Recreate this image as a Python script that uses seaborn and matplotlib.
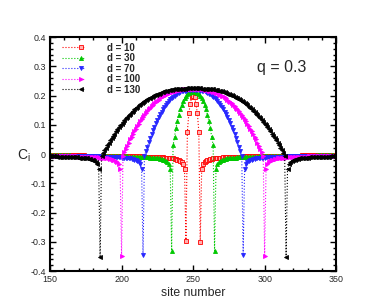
import numpy as np
import pandas as pd
import matplotlib
matplotlib.use("Agg")
import matplotlib.pyplot as plt
import seaborn as sns
from matplotlib.ticker import MultipleLocator, AutoMinorLocator, FuncFormatter
from matplotlib.legend_handler import HandlerLine2DCompound
from matplotlib.lines import Line2D

# distances between the two impurities (centred on site 250)
distances = [10, 30, 70, 100, 130]
labels = ["d = 10", "d = 30", "d = 70", "d = 100", "d = 130"]

# C_i between the two impurity sites (left to right)
inner_10 = [0.076, 0.139, 0.171, 0.196, 0.200, 0.196, 0.171, 0.139, 0.076]
inner_30 = [0.030, 0.059, 0.088, 0.113, 0.135, 0.154, 0.169, 0.182, 0.192, 0.200,
            0.206, 0.210, 0.212, 0.213, 0.213, 0.213, 0.212, 0.210, 0.206, 0.200,
            0.192, 0.182, 0.169, 0.154, 0.135, 0.113, 0.088, 0.059, 0.030]
inner_70 = [-0.005, 0.009, 0.025, 0.040, 0.054, 0.069, 0.081, 0.094, 0.106, 0.117,
            0.127, 0.136, 0.145, 0.154, 0.162, 0.169, 0.175, 0.182, 0.187, 0.192,
            0.196, 0.200, 0.204, 0.207, 0.209, 0.212, 0.214, 0.215, 0.217, 0.217,
            0.218, 0.219, 0.219, 0.219, 0.219, 0.219, 0.219, 0.219, 0.218, 0.217,
            0.217, 0.215, 0.214, 0.212, 0.209, 0.207, 0.204, 0.200, 0.196, 0.192,
            0.187, 0.182, 0.175, 0.169, 0.162, 0.154, 0.145, 0.136, 0.127, 0.117,
            0.106, 0.094, 0.081, 0.069, 0.054, 0.040, 0.025, 0.009, -0.005]
inner_100 = [-0.005, 0.006, 0.018, 0.029, 0.039, 0.050, 0.060, 0.069, 0.079, 0.087,
             0.096, 0.104, 0.112, 0.120, 0.127, 0.134, 0.140, 0.147, 0.153, 0.158,
             0.164, 0.169, 0.174, 0.178, 0.182, 0.186, 0.190, 0.194, 0.197, 0.200,
             0.203, 0.205, 0.208, 0.210, 0.211, 0.213, 0.215, 0.216, 0.217, 0.218,
             0.219, 0.220, 0.221, 0.221, 0.221, 0.222, 0.222, 0.222, 0.222, 0.222,
             0.222, 0.222, 0.222, 0.222, 0.221, 0.221, 0.221, 0.220, 0.219, 0.218,
             0.217, 0.216, 0.215, 0.213, 0.211, 0.210, 0.208, 0.205, 0.203, 0.200,
             0.197, 0.194, 0.190, 0.186, 0.182, 0.178, 0.174, 0.169, 0.164, 0.158,
             0.153, 0.147, 0.140, 0.134, 0.127, 0.120, 0.112, 0.104, 0.096, 0.087,
             0.079, 0.069, 0.060, 0.050, 0.039, 0.029, 0.018, 0.006, -0.005]
inner_130 = [-0.005, 0.005, 0.014, 0.022, 0.031, 0.039, 0.047, 0.055, 0.063, 0.070,
             0.078, 0.084, 0.091, 0.098, 0.104, 0.110, 0.116, 0.122, 0.128, 0.133,
             0.138, 0.143, 0.148, 0.153, 0.157, 0.162, 0.166, 0.170, 0.174, 0.177,
             0.181, 0.184, 0.187, 0.190, 0.193, 0.196, 0.198, 0.201, 0.203, 0.205,
             0.207, 0.209, 0.211, 0.212, 0.214, 0.215, 0.216, 0.218, 0.219, 0.220,
             0.221, 0.221, 0.222, 0.223, 0.223, 0.224, 0.224, 0.224, 0.224, 0.225,
             0.225, 0.225, 0.225, 0.225, 0.225, 0.225, 0.225, 0.225, 0.225, 0.225,
             0.224, 0.224, 0.224, 0.224, 0.223, 0.223, 0.222, 0.221, 0.221, 0.220,
             0.219, 0.218, 0.216, 0.215, 0.214, 0.212, 0.211, 0.209, 0.207, 0.205,
             0.203, 0.201, 0.198, 0.196, 0.193, 0.190, 0.187, 0.184, 0.181, 0.177,
             0.174, 0.170, 0.166, 0.162, 0.157, 0.153, 0.148, 0.143, 0.138, 0.133,
             0.128, 0.122, 0.116, 0.110, 0.104, 0.098, 0.091, 0.084, 0.078, 0.070,
             0.063, 0.055, 0.047, 0.039, 0.031, 0.022, 0.014, 0.005, -0.005]
inners = [inner_10, inner_30, inner_70, inner_100, inner_130]

# values at the two impurity sites (left, right)
dips_left = [-0.298, -0.330, -0.346, -0.349, -0.353]
dips_right = [-0.299, -0.330, -0.345, -0.350, -0.353]

# C_i outside the pair, by distance from the impurity site (1, 2, 3, ...)
tail = ([-0.050, -0.035, -0.028, -0.024, -0.021, -0.019, -0.017, -0.016, -0.015, -0.014]
        + [-0.012] * 5 + [-0.010] * 5 + [-0.009] * 10 + [-0.007] * 15 + [-0.005] * 25)
far_value = -0.004

sites = np.arange(146, 355)

colors = ["#ff0000", "#00c800", "#2828ff", "#ff00ff", "#000000"]
markers = ["s", "^", "v", ">", "<"]
face = ["#ffb0b0", "#00c800", "#2828ff", "#ff00ff", "#000000"]

rows = []
for d, lab, inner, dl, dr in zip(distances, labels, inners, dips_left, dips_right):
    left, right = 250 - d // 2, 250 + d // 2
    vals = {}
    for k, v in enumerate(tail, start=1):
        vals[left - k] = v
        vals[right + k] = v
    vals[left] = dl
    vals[right] = dr
    for i, v in enumerate(inner):
        vals[left + 1 + i] = v
    for s in sites:
        rows.append({"site": s, "C": vals.get(s, far_value), "label": lab})
df = pd.DataFrame(rows)

sns.set_theme(style="ticks")
plt.rcParams["font.family"] = ["Liberation Sans", "DejaVu Sans"]
plt.rcParams["mathtext.fontset"] = "custom"
plt.rcParams["mathtext.rm"] = "Liberation Sans"
plt.rcParams["mathtext.it"] = "Liberation Sans"

fig = plt.figure(figsize=(3.82, 3.06), dpi=100)
ax = fig.add_axes([0.131, 0.114, 0.749, 0.765])

for lab, col, mk, fc in zip(labels, colors, markers, face):
    sub = df[df["label"] == lab]
    sns.lineplot(data=sub, x="site", y="C", ax=ax, color=col, marker=mk,
                 markersize=2.9, markerfacecolor=fc, markeredgecolor=col,
                 markeredgewidth=0.6, linestyle=":", linewidth=0.8,
                 estimator=None, sort=False, label=lab)

ax.set_xlim(150, 350)
ax.set_ylim(-0.4, 0.4)
ax.xaxis.set_major_locator(MultipleLocator(50))
ax.xaxis.set_minor_locator(AutoMinorLocator(5))
ax.yaxis.set_major_locator(MultipleLocator(0.1))
ax.yaxis.set_minor_locator(AutoMinorLocator(5))
ax.yaxis.set_major_formatter(FuncFormatter(lambda v, p: "0" if abs(v) < 1e-9 else f"{v:.1f}"))
ax.tick_params(which="both", direction="in", top=True, right=True, labelsize=6.4,
               width=1.0, color="black")
ax.tick_params(which="major", length=4, pad=3)
ax.tick_params(which="minor", length=2)
for sp in ax.spines.values():
    sp.set_linewidth(1.5)
    sp.set_color("black")

ax.set_xlabel("site number", fontsize=8.8, labelpad=2)
ax.set_ylabel("")
fig.text(0.045, 0.49, r"C$_\mathregular{i}$", fontsize=10, ha="left", va="center")
ax.text(0.723, 0.85, "q = 0.3", transform=ax.transAxes, fontsize=11.5)


class EndMarker(HandlerLine2DCompound):
    def get_xdata(self, legend, xdescent, ydescent, width, height, fontsize):
        xdata = np.array([-xdescent, -xdescent + width])
        return xdata, np.array([-xdescent + 0.84 * width])


handles, labs = ax.get_legend_handles_labels()
leg = ax.legend(handles, labs, loc="upper left", bbox_to_anchor=(0.042, 0.975),
                frameon=False, prop={"size": 7.0, "weight": "bold"},
                handlelength=2.3, handletextpad=2.3, labelspacing=0.05,
                borderpad=0, borderaxespad=0,
                handler_map={Line2D: EndMarker()})

fig.savefig("out.png", dpi=100)
